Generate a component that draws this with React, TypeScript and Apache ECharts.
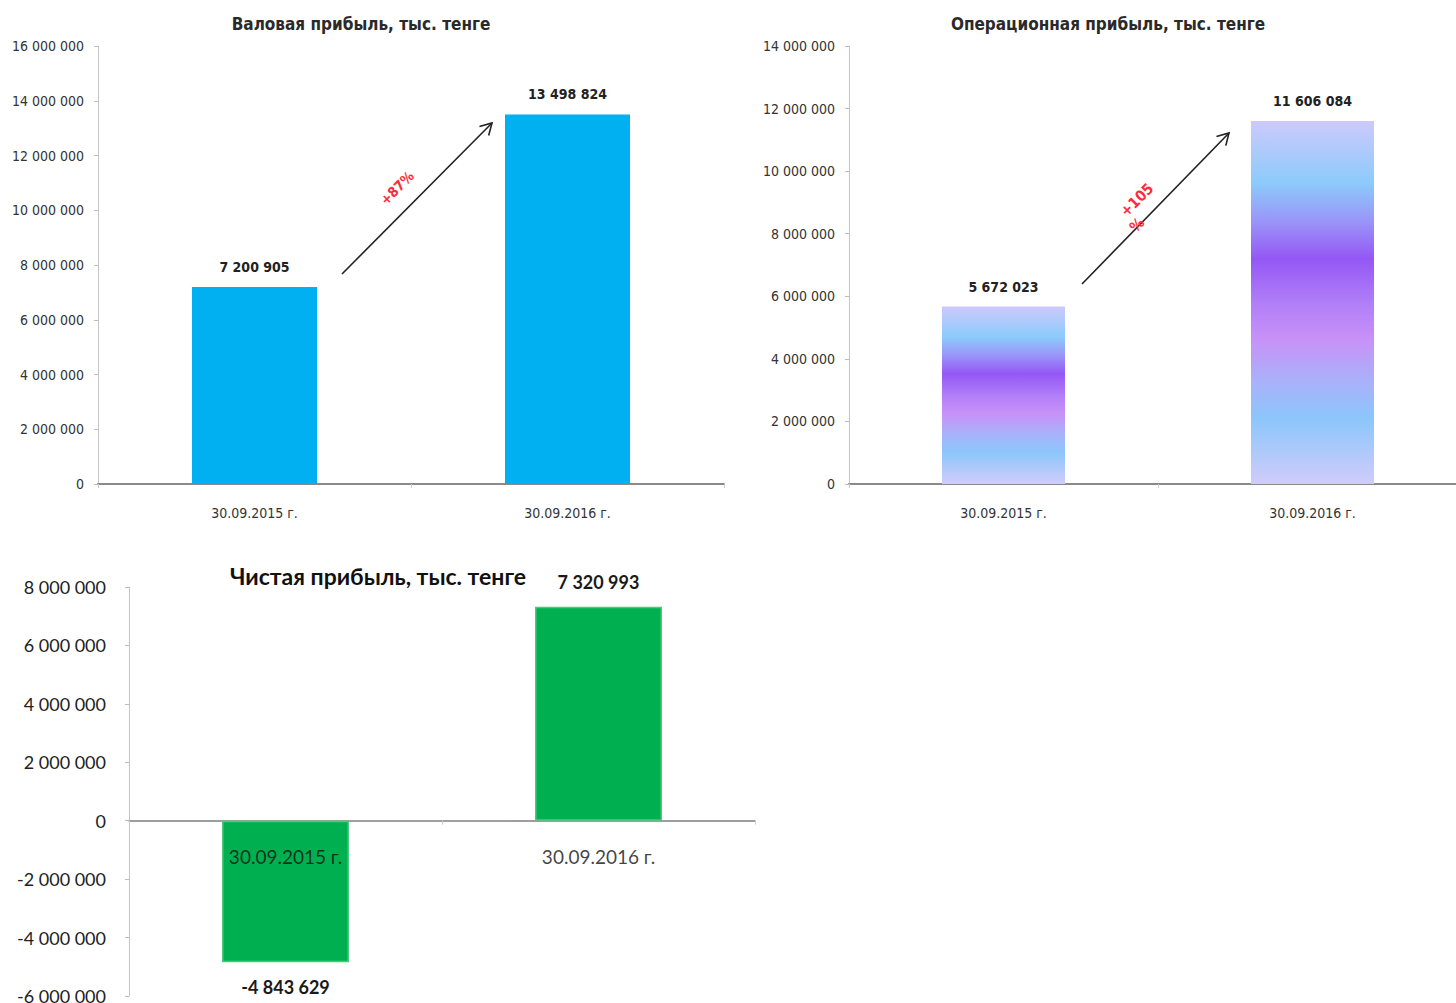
import React, { useEffect, useRef } from "react";
import * as echarts from "echarts";

const categories = ["30.09.2015 г.", "30.09.2016 г."];
const grossProfit = [7200905, 13498824];
const operatingProfit = [5672023, 11606084];
const netProfit = [-4843629, 7320993];
const chartTitles = [
  "Валовая прибыль, тыс. тенге",
  "Операционная прибыль, тыс. тенге",
  "Чистая прибыль, тыс. тенге",
];
const growthLabels = ["+87%", "+105", "%"];

const fmt = (v: number) => {
  const s = String(Math.abs(Math.round(v))).replace(/\B(?=(\d{3})+(?!\d))/g, " ");
  return v < 0 ? "-" + s : s;
};

const NARROW = "'DejaVu Sans Condensed', 'Liberation Sans Narrow', 'DejaVu Sans', sans-serif";
const LATO = "Lato, 'Open Sans', sans-serif";

function arrow(x1: number, y1: number, x2: number, y2: number) {
  const dx = x2 - x1;
  const dy = y2 - y1;
  const len = Math.hypot(dx, dy);
  const ux = -dx / len;
  const uy = -dy / len;
  const L = 13;
  const pts = [Math.PI / 6, -Math.PI / 6].map((a) => [
    x2 + L * (ux * Math.cos(a) - uy * Math.sin(a)),
    y2 + L * (ux * Math.sin(a) + uy * Math.cos(a)),
  ]);
  return [
    { type: "line", shape: { x1, y1, x2, y2 }, style: { stroke: "#222", lineWidth: 1.6 } },
    {
      type: "polyline",
      shape: { points: [pts[0], [x2, y2], pts[1]] },
      style: { stroke: "#222", lineWidth: 1.6, fill: null },
    },
  ];
}

const purpleGradient = new echarts.graphic.LinearGradient(0, 0, 0, 1, [
  { offset: 0, color: "#cdc9fb" },
  { offset: 0.17, color: "#8ccbfb" },
  { offset: 0.28, color: "#9a93f8" },
  { offset: 0.38, color: "#9457f5" },
  { offset: 0.5, color: "#b07ef7" },
  { offset: 0.6, color: "#c891f8" },
  { offset: 0.72, color: "#a8b2fa" },
  { offset: 0.82, color: "#8cc6fb" },
  { offset: 1, color: "#d0ccfb" },
]);

function valueAxis(gridIndex: number, min: number, max: number, font: string, size: number, margin: number, color: string) {
  return {
    type: "value",
    gridIndex,
    min,
    max,
    interval: 2000000,
    splitLine: { show: false },
    axisLine: { show: true, lineStyle: { color: "#c4c4c4", width: 1 } },
    axisTick: { show: true, length: 4, lineStyle: { color: "#bbb" } },
    axisLabel: { margin, fontSize: size, fontFamily: font, color, formatter: (v: number) => fmt(v) },
  };
}

function catAxis(gridIndex: number, font: string, size: number, margin: number, color: string, lineColor: string, lineWidth: number, showLabel: boolean) {
  return {
    type: "category",
    gridIndex,
    data: categories,
    axisLine: { show: true, onZero: true, lineStyle: { color: lineColor, width: lineWidth } },
    axisTick: { show: true, length: 4, lineStyle: { color: "#ccc" } },
    axisLabel: { show: showLabel, margin, fontSize: size, fontFamily: font, color },
  };
}

export default function App() {
  const ref = useRef<HTMLDivElement>(null);
  useEffect(() => {
    if (!ref.current) return;
    const chart = echarts.init(ref.current, undefined, { renderer: "svg" });
    const option = {
      animation: false,
      backgroundColor: "#ffffff",
      grid: [
        { left: 98, top: 46, width: 626, height: 438, outerBoundsMode: "none", containLabel: false },
        { left: 849, top: 46, width: 618, height: 438, outerBoundsMode: "none", containLabel: false },
        { left: 129, top: 587, width: 626, height: 409, outerBoundsMode: "none", containLabel: false },
      ],
      xAxis: [
        catAxis(0, NARROW, 14, 22, "#333", "#8a8a8a", 2, true),
        catAxis(1, NARROW, 14, 22, "#333", "#8a8a8a", 2, true),
        catAxis(2, LATO, 19, 27, "#111", "#7f7f7f", 1.5, false),
      ],
      yAxis: [
        valueAxis(0, 0, 16000000, NARROW, 14, 14, "#333"),
        valueAxis(1, 0, 14000000, NARROW, 14, 14, "#333"),
        valueAxis(2, -6000000, 8000000, LATO, 18, 23, "#222"),
      ],
      series: [
        {
          type: "bar",
          xAxisIndex: 0,
          yAxisIndex: 0,
          data: grossProfit,
          barWidth: 125,
          itemStyle: { color: "#00b0f0" },
          label: {
            show: true,
            position: "top",
            distance: 13,
            fontSize: 14,
            fontWeight: "bold",
            fontFamily: NARROW,
            color: "#222",
            formatter: (p: any) => fmt(p.value),
          },
        },
        {
          type: "bar",
          xAxisIndex: 1,
          yAxisIndex: 1,
          data: operatingProfit,
          barWidth: 123,
          itemStyle: { color: purpleGradient },
          label: {
            show: true,
            position: "top",
            distance: 13,
            fontSize: 14,
            fontWeight: "bold",
            fontFamily: NARROW,
            color: "#222",
            formatter: (p: any) => fmt(p.value),
          },
        },
        {
          type: "bar",
          xAxisIndex: 2,
          yAxisIndex: 2,
          data: netProfit.map((v) => ({ value: v, label: { position: v < 0 ? "bottom" : "top" } })),
          barWidth: 127,
          itemStyle: { color: "#00b050", borderColor: "#4cc97c", borderWidth: 1.5 },
          label: {
            show: true,
            distance: 16,
            fontSize: 18,
            fontWeight: "bold",
            fontFamily: LATO,
            color: "#1a1a1a",
            formatter: (p: any) => fmt(p.value),
          },
        },
        {
          type: "scatter",
          xAxisIndex: 2,
          yAxisIndex: 2,
          data: categories.map((c) => [c, 0]),
          symbolSize: 1,
          itemStyle: { color: "rgba(0,0,0,0)" },
          z: 5,
          silent: true,
          label: {
            show: true,
            position: "bottom",
            distance: 26,
            fontSize: 19,
            fontFamily: LATO,
            color: "#111",
            formatter: (p: any) => categories[p.dataIndex],
          },
        },
      ],
      graphic: [
        {
          type: "text",
          x: 361,
          y: 24,
          style: { text: chartTitles[0], align: "center", verticalAlign: "middle", font: `bold 17px ${NARROW}`, fill: "#2a2a2a" },
        },
        {
          type: "text",
          x: 1108,
          y: 24,
          style: { text: chartTitles[1], align: "center", verticalAlign: "middle", font: `bold 17px ${NARROW}`, fill: "#2a2a2a" },
        },
        {
          type: "text",
          x: 378,
          y: 576,
          style: { text: chartTitles[2], align: "center", verticalAlign: "middle", font: `bold 23px ${LATO}`, fill: "#111" },
        },
        ...arrow(342, 274, 492, 123),
        ...arrow(1082, 284, 1229, 133),
        {
          type: "text",
          x: 397,
          y: 188,
          rotation: Math.PI / 4,
          style: { text: growthLabels[0], align: "center", verticalAlign: "middle", font: `bold 14px ${NARROW}`, fill: "#ff2a3a" },
        },
        {
          type: "text",
          x: 1137,
          y: 200,
          rotation: Math.PI / 4,
          style: { text: growthLabels[1], align: "center", verticalAlign: "middle", font: `bold 15px ${NARROW}`, fill: "#ff2a3a" },
        },
        {
          type: "text",
          x: 1137,
          y: 225,
          rotation: Math.PI / 4,
          style: { text: growthLabels[2], align: "center", verticalAlign: "middle", font: `bold 15px ${NARROW}`, fill: "#ff2a3a" },
        },
      ],
    };
    chart.setOption(option as any);
    return () => chart.dispose();
  }, []);
  return (
    <div
      ref={ref}
      style={{ position: "fixed", left: 0, top: 0, width: 1456, height: 1003, background: "#fff" }}
    />
  );
}
